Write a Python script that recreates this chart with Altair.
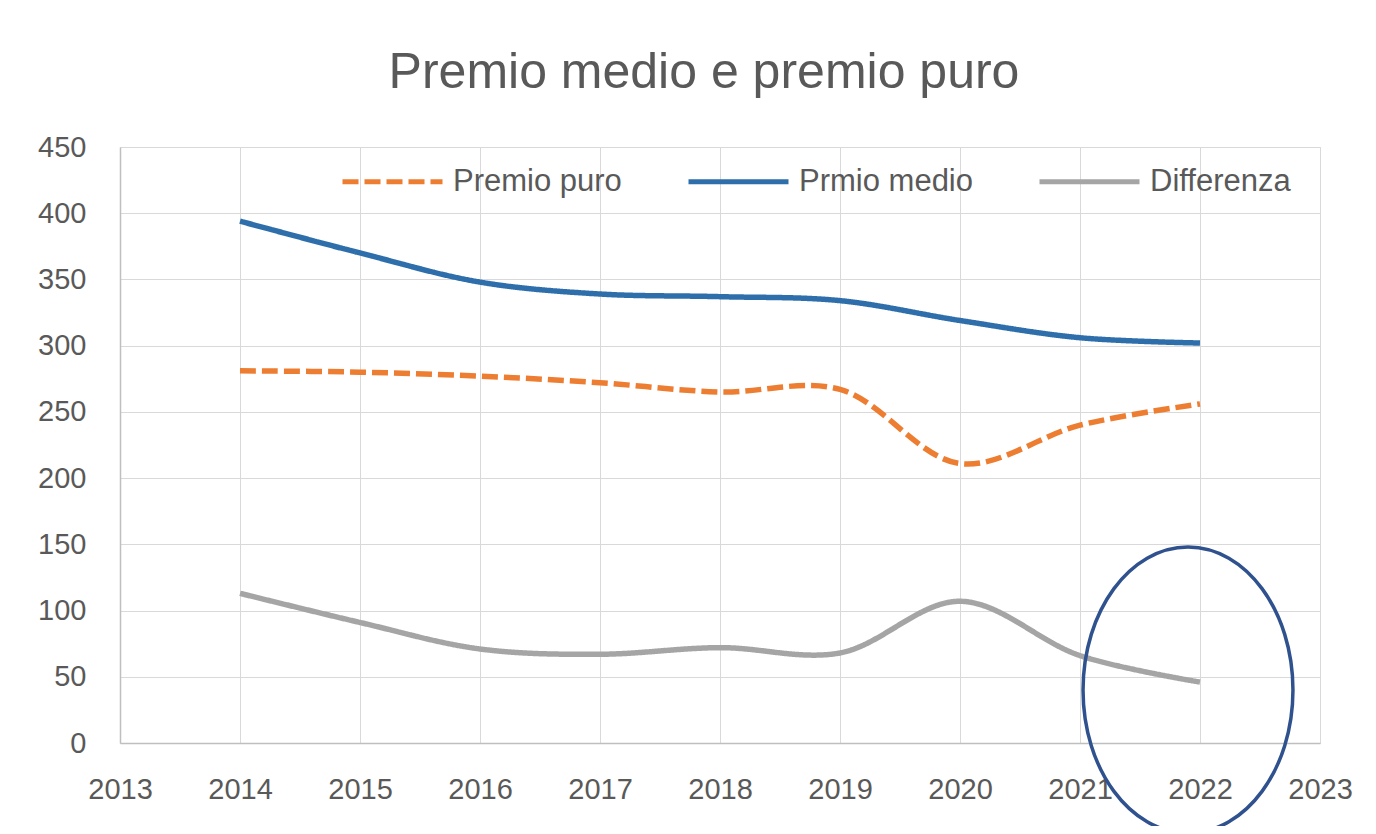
import altair as alt
import pandas as pd

# ---- data ----
years = [2014, 2015, 2016, 2017, 2018, 2019, 2020, 2021, 2022]
premio_puro = [281, 280, 277, 272, 265, 267, 211, 240, 256]
premio_medio = [394, 370, 348, 339, 337, 334, 319, 306, 302]
differenza = [113, 91, 71, 67, 72, 68, 107, 66, 46]

series_names = ["Premio puro", "Prmio medio", "Differenza"]
series_colors = ["#ED7D31", "#2E6EAB", "#A5A5A5"]
series_dashes = [[16, 6], [1, 0], [1, 0]]

x_ticks = list(range(2013, 2024))
y_ticks = list(range(0, 451, 50))
title_text = "Premio medio e premio puro"

# hand-drawn highlight ellipse (annotation) around 2022
ellipse_x = [2021.9]
ellipse_y = [40]

FONT = "Liberation Sans"
TXT = "#595959"

rows = []
for name, vals in zip(series_names, [premio_puro, premio_medio, differenza]):
    for yr, v in zip(years, vals):
        rows.append({"Anno": yr, "Valore": v, "Serie": name})
df = pd.DataFrame(rows)

x_enc = alt.X(
    "Anno:Q",
    scale=alt.Scale(domain=[2013, 2023], nice=False, zero=False),
    axis=alt.Axis(
        values=x_ticks, format="d", title=None, ticks=False,
        labelPadding=32, labelFontSize=29, labelFont=FONT, labelColor=TXT,
        domainColor="#BFBFBF", domainWidth=1.5, gridColor="#D9D9D9",
        labelFlush=False,
    ),
)
y_enc = alt.Y(
    "Valore:Q",
    scale=alt.Scale(domain=[0, 450], nice=False),
    axis=alt.Axis(
        values=y_ticks, title=None, ticks=False,
        labelPadding=34, labelFontSize=29, labelFont=FONT, labelColor=TXT,
        domainColor="#BFBFBF", domainWidth=1.5, gridColor="#D9D9D9",
    ),
)

legend = alt.Legend(
    title=None, orient="none", legendX=220, legendY=-18,
    direction="horizontal", symbolType="stroke", symbolSize=10000,
    symbolStrokeWidth=5, labelFontSize=31, labelFont=FONT, labelColor=TXT,
    labelOffset=8, columnPadding=56, labelLimit=500,
)

lines = alt.Chart(df).mark_line(interpolate="catmull-rom", strokeWidth=5.5).encode(
    x=x_enc,
    y=y_enc,
    color=alt.Color("Serie:N", scale=alt.Scale(domain=series_names, range=series_colors),
                    sort=series_names, legend=legend),
    strokeDash=alt.StrokeDash("Serie:N", scale=alt.Scale(domain=series_names, range=series_dashes),
                              sort=series_names, legend=legend),
    order=alt.Order("Anno:Q"),
)

ell_df = pd.DataFrame({"Anno": ellipse_x, "Valore": ellipse_y})
ellipse_path = "M -0.734 0 A 0.734 1 0 1 0 0.734 0 A 0.734 1 0 1 0 -0.734 0 Z"
ellipse = alt.Chart(ell_df).mark_point(
    shape=ellipse_path, size=81796, filled=False, stroke="#2F528F",
    strokeWidth=3.5, opacity=1,
).encode(x="Anno:Q", y="Valore:Q")

chart = alt.layer(lines, ellipse).properties(
    width=1200,
    height=596,
    title=alt.TitleParams(
        title_text, fontSize=50, font=FONT, fontWeight="normal", color=TXT,
        anchor="middle", offset=31, dx=-16,
    ),
    autosize=alt.AutoSizeParams(type="none"),
    padding={"left": 112, "top": 139, "right": 48, "bottom": 83},
).configure_view(stroke=None).configure(background="white")

chart.save("out.html", embed_options={"renderer": "svg", "actions": False})
